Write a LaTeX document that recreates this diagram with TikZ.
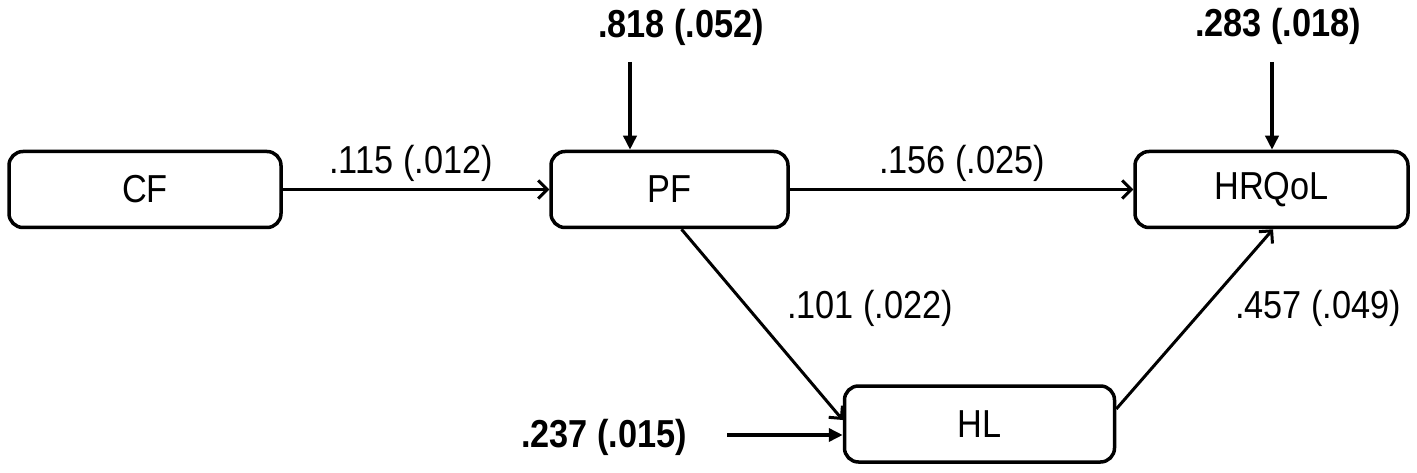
\documentclass[tikz,border=0pt]{standalone}
\usepackage{fontspec}
\setmainfont{Liberation Sans}[FakeStretch=0.88]
\usetikzlibrary{arrows.meta,positioning}

\begin{document}
\begin{tikzpicture}
[
	              x = 1pt,
	              y = -1pt,
	  factor/.style = { draw=black, rounded corners=14pt, line width=3.5pt, minimum height=76pt, inner sep=0pt, font=\fontsize{39}{44}\selectfont },
	    coef/.style = { inner sep=0pt, font=\fontsize{39}{44}\selectfont },
	   resid/.style = { inner sep=0pt, font=\fontsize{39}{44}\selectfont\bfseries },
	    link/.style = { line width=3pt, -{Straight Barb[length=9pt,width=18pt,line width=3pt]} },
	 errlink/.style = { line width=3.5pt, -{Triangle[length=14pt,width=13pt]} }
]
	\useasboundingbox (0,0) rectangle (1417,473);

	% latent factors
	% nodes
	\node    (CF) at (145,189.5)    [factor, minimum width=272pt] {CF};
	\node    (PF) at (669.5,189.5)  [factor, minimum width=237pt] {PF};
	\node (HRQoL) at (1271.5,189.5) [factor, minimum width=273pt] {HRQoL};
	\node    (HL) at (979.5,424)    [factor, minimum width=270pt] {HL};

	% residual variances
	% nodes
	\node    (rPF) at (681,27)   [resid] {.818 (.052)};
	\node (rHRQoL) at (1278,26)  [resid] {.283 (.018)};
	\node    (rHL) at (604,437)  [resid] {.237 (.015)};
	\coordinate    (rPFtail) at (630,62);
	\coordinate (rHRQoLtail) at (1272,62);
	\coordinate    (rHLtail) at (727,435);

	% edges
	\draw [errlink] (rPFtail) -- (rPFtail |- PF.north);
	\draw [errlink] (rHRQoLtail) -- (rHRQoLtail |- HRQoL.north);
	\draw [errlink] (rHLtail) -- (rHLtail -| HL.west);

	% paths
	% nodes
	\node  (cCFPF) at (411,163)  [coef] {.115 (.012)};
	\node  (cPFHQ) at (962,163)  [coef] {.156 (.025)};
	\node  (cPFHL) at (870,308)  [coef] {.101 (.022)};
	\node  (cHLHQ) at (1318,308) [coef] {.457 (.049)};

	% edges
	\draw [link] (CF) -- (PF);
	\draw [link] (PF) -- (HRQoL);
	\draw [link] ([xshift=12pt]PF.south) -- ([yshift=4pt]HL.west);
	\draw [link] ([yshift=15pt]HL.east) -- ([xshift=1.5pt]HRQoL.south);
\end{tikzpicture}
\end{document}
